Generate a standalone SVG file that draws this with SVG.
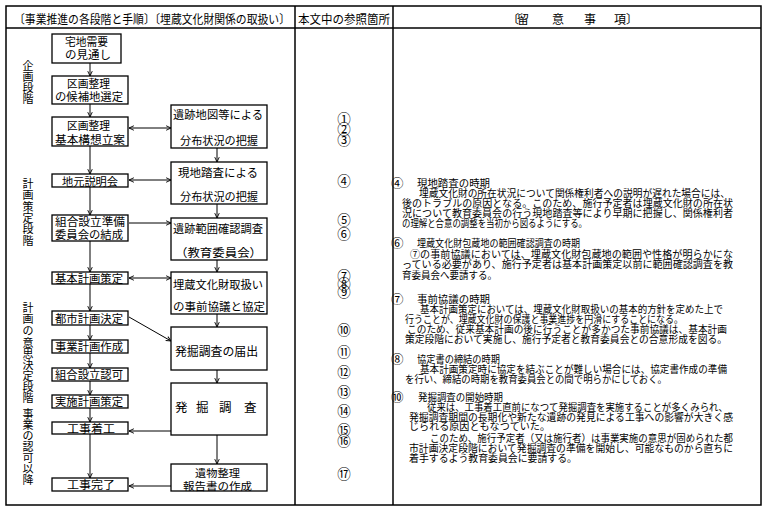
<svg xmlns="http://www.w3.org/2000/svg" width="770" height="514" viewBox="0 0 770 514">
<defs>
<style>
text{font-family:"Noto Sans CJK JP","Noto Sans CJK SC",sans-serif;fill:#000}
.h{font-size:12px}
.b{font-size:11.5px}
.v{font-size:11px;text-anchor:middle}
.n{font-size:13.5px;text-anchor:middle}
.r{font-size:10px}
.q{font-size:12.5px}
.box{fill:#fff;stroke:#000;stroke-width:1.3}
.c{fill:none;stroke:#000;stroke-width:1}
.grid{fill:none;stroke:#000;stroke-width:1.5}
</style>
<marker id="a" viewBox="0 0 8 8" refX="7.5" refY="4" markerWidth="6" markerHeight="6" markerUnits="userSpaceOnUse" orient="auto-start-reverse">
<path d="M1,1 L7.5,4 L1,7" fill="none" stroke="#000" stroke-width="1.2"/>
</marker>
</defs>
<rect width="770" height="514" fill="#fff"/>

<g id="table">
<rect class="grid" x="6" y="6" width="755" height="499"/>
<line class="grid" x1="6" y1="28" x2="761" y2="28"/>
<line class="grid" x1="295" y1="6" x2="295" y2="505"/>
<line class="grid" x1="393" y1="6" x2="393" y2="505"/>
<text class="h" x="14" y="24" textLength="276" lengthAdjust="spacingAndGlyphs">〔事業推進の各段階と手順〕〔埋蔵文化財関係の取扱い〕</text>
<text class="h" x="298" y="24" textLength="92" lengthAdjust="spacingAndGlyphs">本文中の参照箇所</text>
<text class="h" y="24"><tspan x="507">〔</tspan><tspan x="517">留</tspan><tspan x="552">意</tspan><tspan x="584">事</tspan><tspan x="614">項</tspan><tspan x="626">〕</tspan></text>
</g>

<g id="stages">
<text class="v"><tspan x="28" y="70">企</tspan><tspan x="28" y="81">画</tspan><tspan x="28" y="92">段</tspan><tspan x="28" y="103">階</tspan></text>
<text class="v"><tspan x="28" y="188">計</tspan><tspan x="28" y="199">画</tspan><tspan x="28" y="210.5">策</tspan><tspan x="28" y="222">定</tspan><tspan x="28" y="233">段</tspan><tspan x="28" y="244.5">階</tspan></text>
<text class="v"><tspan x="28" y="312">計</tspan><tspan x="28" y="323">画</tspan><tspan x="28" y="335">の</tspan><tspan x="28" y="347">意</tspan><tspan x="28" y="358">思</tspan><tspan x="28" y="369">決</tspan><tspan x="28" y="380">定</tspan><tspan x="28" y="391">段</tspan><tspan x="28" y="402">階</tspan><tspan x="28" y="418">事</tspan><tspan x="28" y="429">業</tspan><tspan x="28" y="440">の</tspan><tspan x="28" y="451">認</tspan><tspan x="28" y="462">可</tspan><tspan x="28" y="473">以</tspan><tspan x="28" y="484">降</tspan></text>
</g>

<g id="connectors">
<line class="c" x1="90" y1="63" x2="90" y2="76" marker-end="url(#a)"/>
<line class="c" x1="90" y1="104" x2="90" y2="117" marker-end="url(#a)"/>
<line class="c" x1="90" y1="146" x2="90" y2="174" marker-end="url(#a)"/>
<line class="c" x1="90" y1="187" x2="90" y2="215" marker-end="url(#a)"/>
<line class="c" x1="90" y1="241" x2="90" y2="272" marker-end="url(#a)"/>
<line class="c" x1="90" y1="284" x2="90" y2="311" marker-end="url(#a)"/>
<line class="c" x1="90" y1="325" x2="90" y2="340" marker-end="url(#a)"/>
<line class="c" x1="90" y1="353" x2="90" y2="368" marker-end="url(#a)"/>
<line class="c" x1="90" y1="381" x2="90" y2="395" marker-end="url(#a)"/>
<line class="c" x1="90" y1="408" x2="90" y2="422" marker-end="url(#a)"/>
<line class="c" x1="90" y1="434" x2="90" y2="478" marker-end="url(#a)"/>
<line class="c" x1="217" y1="148" x2="217" y2="162" marker-end="url(#a)"/>
<line class="c" x1="217" y1="204" x2="217" y2="218" marker-end="url(#a)"/>
<line class="c" x1="217" y1="260" x2="217" y2="272" marker-end="url(#a)"/>
<line class="c" x1="217" y1="314" x2="217" y2="327" marker-end="url(#a)"/>
<line class="c" x1="217" y1="370" x2="217" y2="383" marker-end="url(#a)"/>
<line class="c" x1="217" y1="435" x2="217" y2="464" marker-end="url(#a)"/>
<line class="c" x1="129" y1="128" x2="171" y2="128" marker-start="url(#a)" marker-end="url(#a)"/>
<line class="c" x1="129" y1="180" x2="171" y2="180" marker-start="url(#a)" marker-end="url(#a)"/>
<line class="c" x1="129" y1="223" x2="171" y2="223" marker-end="url(#a)"/>
<line class="c" x1="129" y1="278" x2="171" y2="278" marker-start="url(#a)" marker-end="url(#a)"/>
<line class="c" x1="129" y1="317" x2="171" y2="341" marker-end="url(#a)"/>
<line class="c" x1="171" y1="431" x2="129" y2="431" marker-end="url(#a)"/>
<line class="c" x1="171" y1="486" x2="129" y2="486" marker-end="url(#a)"/>
</g>

<g id="n1"><rect class="box" x="52" y="34" width="69" height="29"/><text class="b" x="65" y="46" textLength="43" lengthAdjust="spacingAndGlyphs">宅地需要</text><text class="b" x="65" y="59" textLength="46" lengthAdjust="spacingAndGlyphs">の見通し</text></g>
<g id="n2"><rect class="box" x="52" y="76" width="76" height="28"/><text class="b" x="67" y="88" textLength="43" lengthAdjust="spacingAndGlyphs">区画整理</text><text class="b" x="55" y="101" textLength="68" lengthAdjust="spacingAndGlyphs">の候補地選定</text></g>
<g id="n3"><rect class="box" x="52" y="117" width="76" height="29"/><text class="b" x="67" y="130" textLength="43" lengthAdjust="spacingAndGlyphs">区画整理</text><text class="b" x="55" y="144" textLength="70" lengthAdjust="spacingAndGlyphs">基本構想立案</text></g>
<g id="n4"><rect class="box" x="52" y="174" width="76" height="13"/><text class="b" x="62" y="185.5" textLength="56" lengthAdjust="spacingAndGlyphs">地元説明会</text></g>
<g id="n5"><rect class="box" x="52" y="215" width="76" height="26"/><text class="b" x="55" y="226" textLength="70" lengthAdjust="spacingAndGlyphs">組合設立準備</text><text class="b" x="55" y="239" textLength="68" lengthAdjust="spacingAndGlyphs">委員会の結成</text></g>
<g id="n6"><rect class="box" x="52" y="272" width="76" height="12"/><text class="b" x="55" y="282.5" textLength="68" lengthAdjust="spacingAndGlyphs">基本計画策定</text></g>
<g id="n7"><rect class="box" x="52" y="311" width="76" height="14"/><text class="b" x="55" y="322.5" textLength="68" lengthAdjust="spacingAndGlyphs">都市計画決定</text></g>
<g id="n8"><rect class="box" x="52" y="340" width="76" height="13"/><text class="b" x="55" y="351" textLength="68" lengthAdjust="spacingAndGlyphs">事業計画作成</text></g>
<g id="n9"><rect class="box" x="52" y="368" width="76" height="13"/><text class="b" x="55" y="379" textLength="68" lengthAdjust="spacingAndGlyphs">組合設立認可</text></g>
<g id="n10"><rect class="box" x="52" y="395" width="76" height="13"/><text class="b" x="55" y="406" textLength="68" lengthAdjust="spacingAndGlyphs">実施計画策定</text></g>
<g id="n11"><rect class="box" x="52" y="422" width="76" height="12"/><text class="b" x="67" y="432.5" textLength="48" lengthAdjust="spacingAndGlyphs">工事着工</text></g>
<g id="n12"><rect class="box" x="52" y="478" width="76" height="13"/><text class="b" x="67" y="489" textLength="48" lengthAdjust="spacingAndGlyphs">工事完了</text></g>

<g id="r1"><rect class="box" x="171" y="105" width="96" height="43"/><text class="b" x="173" y="119" textLength="90" lengthAdjust="spacingAndGlyphs">遺跡地図等による</text><text class="b" x="180" y="145" textLength="78" lengthAdjust="spacingAndGlyphs">分布状況の把握</text></g>
<g id="r2"><rect class="box" x="171" y="162" width="96" height="42"/><text class="b" x="178" y="176.5" textLength="80" lengthAdjust="spacingAndGlyphs">現地踏査による</text><text class="b" x="180" y="201" textLength="78" lengthAdjust="spacingAndGlyphs">分布状況の把握</text></g>
<g id="r3"><rect class="box" x="171" y="218" width="96" height="42"/><text class="b" x="173" y="232.5" textLength="90" lengthAdjust="spacingAndGlyphs">遺跡範囲確認調査</text><text class="b" x="175" y="257" textLength="87" lengthAdjust="spacingAndGlyphs">（教育委員会）</text></g>
<g id="r4"><rect class="box" x="171" y="272" width="96" height="42"/><text class="b" x="173" y="288.5" textLength="90" lengthAdjust="spacingAndGlyphs">埋蔵文化財取扱い</text><text class="b" x="173" y="311" textLength="92" lengthAdjust="spacingAndGlyphs">の事前協議と協定</text></g>
<g id="r5"><rect class="box" x="171" y="327" width="96" height="43"/><text class="b" x="175" y="355.5" textLength="83" lengthAdjust="spacingAndGlyphs" style="font-size:12px">発掘調査の届出</text></g>
<g id="r6"><rect class="box" x="171" y="383" width="96" height="52"/><text style="font-size:12.5px" y="411.5"><tspan x="175">発</tspan><tspan x="196">掘</tspan><tspan x="219">調</tspan><tspan x="244">査</tspan></text></g>
<g id="r7"><rect class="box" x="171" y="464" width="96" height="27"/><text class="b" x="195" y="477" textLength="45" lengthAdjust="spacingAndGlyphs" style="font-size:10.5px">遺物整理</text><text class="b" x="183" y="489.5" textLength="69" lengthAdjust="spacingAndGlyphs" style="font-size:10.5px">報告書の作成</text></g>

<g id="refs">
<text class="n" x="344" y="124">①</text>
<text class="n" x="344" y="134">②</text>
<text class="n" x="344" y="145">③</text>
<text class="n" x="344" y="185.5">④</text>
<text class="n" x="344" y="224.5">⑤</text>
<text class="n" x="344" y="238.5">⑥</text>
<text class="n" x="344" y="281">⑦</text>
<text class="n" x="344" y="289">⑧</text>
<text class="n" x="344" y="297">⑨</text>
<text class="n" x="344" y="334.5">⑩</text>
<text class="n" x="344" y="356.5">⑪</text>
<text class="n" x="344" y="376.5">⑫</text>
<text class="n" x="344" y="396.5">⑬</text>
<text class="n" x="344" y="416">⑭</text>
<text class="n" x="344" y="434.5">⑮</text>
<text class="n" x="344" y="445.5">⑯</text>
<text class="n" x="344" y="479">⑰</text>
</g>

<g id="notes">
<text class="q" x="391" y="188">④</text>
<text class="r" x="417" y="187" textLength="73" lengthAdjust="spacingAndGlyphs">現地踏査の時期</text>
<text class="r" x="419" y="197" textLength="311" lengthAdjust="spacingAndGlyphs">埋蔵文化財の所在状況について関係権利者への説明が遅れた場合には、</text>
<text class="r" x="402" y="207" textLength="331" lengthAdjust="spacingAndGlyphs">後のトラブルの原因となる。このため、施行予定者は埋蔵文化財の所在状</text>
<text class="r" x="402" y="217" textLength="331" lengthAdjust="spacingAndGlyphs">況について教育委員会の行う現地踏査等により早期に把握し、関係権利者</text>
<text class="r" x="402" y="227" textLength="185" lengthAdjust="spacingAndGlyphs">の理解と合意の調整を当初から図るようにする。</text>

<text class="q" x="391" y="248">⑥</text>
<text class="r" x="417" y="247" textLength="163" lengthAdjust="spacingAndGlyphs">埋蔵文化財包蔵地の範囲確認調査の時期</text>
<text class="r" x="410" y="257.5" textLength="323" lengthAdjust="spacingAndGlyphs">⑦の事前協議においては、埋蔵文化財包蔵地の範囲や性格が明らかにな</text>
<text class="r" x="402" y="268" textLength="331" lengthAdjust="spacingAndGlyphs">っている必要があり、施行予定者は基本計画策定以前に範囲確認調査を教</text>
<text class="r" x="402" y="279" textLength="95" lengthAdjust="spacingAndGlyphs">育委員会へ要請する。</text>

<text class="q" x="391" y="304">⑦</text>
<text class="r" x="417" y="303" textLength="73" lengthAdjust="spacingAndGlyphs">事前協議の時期</text>
<text class="r" x="420" y="313" textLength="303" lengthAdjust="spacingAndGlyphs">基本計画策定においては、埋蔵文化財取扱いの基本的方針を定めた上で</text>
<text class="r" x="405" y="323" textLength="278" lengthAdjust="spacingAndGlyphs">行うことが、埋蔵文化財の保護と事業進捗を円滑にすることになる。</text>
<text class="r" x="407" y="333" textLength="320" lengthAdjust="spacingAndGlyphs">このため、従来基本計画の後に行うことが多かつた事前協議は、基本計画</text>
<text class="r" x="405" y="343" textLength="322" lengthAdjust="spacingAndGlyphs">策定段階において実施し、施行予定者と教育委員会との合意形成を図る。</text>

<text class="q" x="391" y="364">⑧</text>
<text class="r" x="417" y="363" textLength="83" lengthAdjust="spacingAndGlyphs">協定書の締結の時期</text>
<text class="r" x="420" y="373" textLength="307" lengthAdjust="spacingAndGlyphs">基本計画策定時に協定を結ぶことが難しい場合には、協定書作成の準備</text>
<text class="r" x="405" y="382.5" textLength="262" lengthAdjust="spacingAndGlyphs">を行い、締結の時期を教育委員会との間で明らかにしておく。</text>

<text class="q" x="391" y="402">⑩</text>
<text class="r" x="418" y="401" textLength="85" lengthAdjust="spacingAndGlyphs">発掘調査の開始時期</text>
<text class="r" x="427" y="410.5" textLength="301" lengthAdjust="spacingAndGlyphs">従来は、工事着工直前になつて発掘調査を実施することが多くみられ、</text>
<text class="r" x="409" y="420.5" textLength="324" lengthAdjust="spacingAndGlyphs">発掘調査期間の長期化や新たな遺跡の発見による工事への影響が大きく感</text>
<text class="r" x="409" y="430" textLength="141" lengthAdjust="spacingAndGlyphs">じられる原因ともなつていた。</text>
<text class="r" x="430" y="441.5" textLength="303" lengthAdjust="spacingAndGlyphs">このため、施行予定者（又は施行者）は事業実施の意思が固められた都</text>
<text class="r" x="409" y="451.5" textLength="324" lengthAdjust="spacingAndGlyphs">市計画決定段階において発掘調査の準備を開始し、可能なものから直ちに</text>
<text class="r" x="409" y="461.5" textLength="168" lengthAdjust="spacingAndGlyphs">着手するよう教育委員会に要請する。</text>
</g>
</svg>
